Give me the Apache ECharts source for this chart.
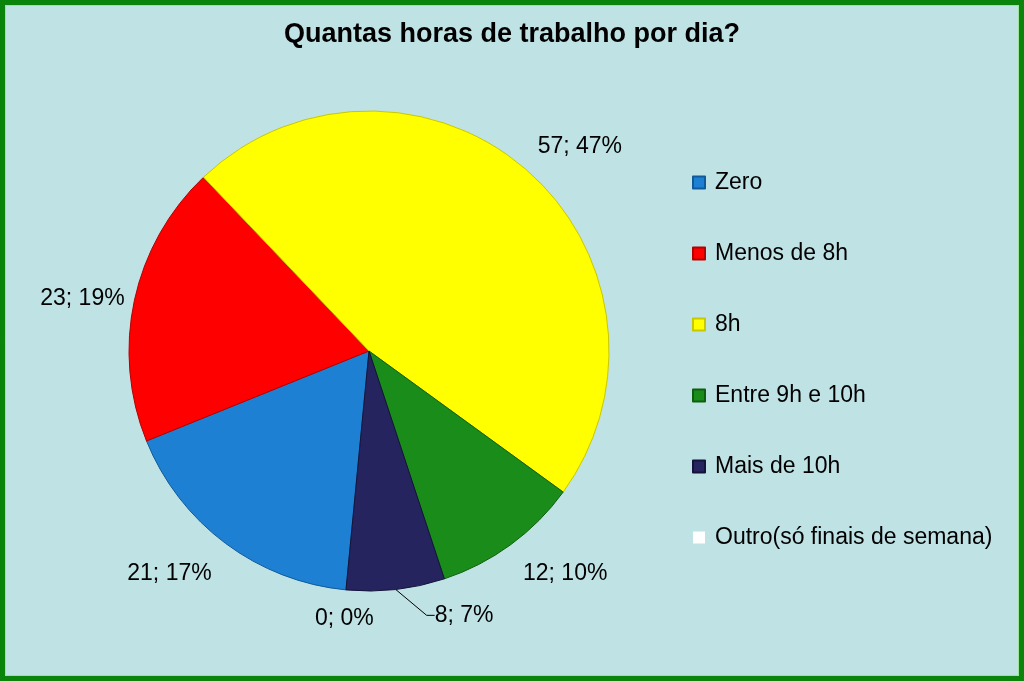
<!DOCTYPE html>
<html>
<head>
<meta charset="utf-8">
<style>
  html, body { margin: 0; padding: 0; background: #BFE2E5; }
  #chart { width: 1024px; height: 681px; }
</style>
<script src="https://cdn.jsdelivr.net/npm/echarts@6/dist/echarts.min.js"></script>
</head>
<body>
<div id="chart"></div>
<script>
var categories = ['Zero', 'Menos de 8h', '8h', 'Entre 9h e 10h', 'Mais de 10h', 'Outro(só finais de semana)'];
var values = [21, 23, 57, 12, 8, 0];
var percentLabels = ['17%', '19%', '47%', '10%', '7%', '0%'];
var colors = ['#1E80D2', '#FF0000', '#FFFF00', '#1A8C1A', '#25245E', '#FFFFFF'];
var edgeColors = ['#0F5A99', '#B30000', '#C8C800', '#0E5F0E', '#14133A', '#CCCCCC'];
// radial gap between slice edge and label
var labelGap = [23, 10, 16, 21, 26, 17];
// extra horizontal shift (leader-line label)
var labelShift = [0, 0, 0, 0, 36, 0];

var data = categories.map(function (name, i) {
  var leader = labelShift[i] > 0;
  return {
    name: name,
    value: values[i],
    itemStyle: {
      color: colors[i],
      borderColor: edgeColors[i],
      borderWidth: i === 5 ? 0 : 1
    },
    labelLine: {
      show: true,
      length: 20,
      length2: leader ? 8 : 0,
      lineStyle: { color: '#000', width: 1, opacity: leader ? 1 : 0 }
    }
  };
});

var chart = echarts.init(document.getElementById('chart'), null, { renderer: 'canvas' });
chart.setOption({
  backgroundColor: '#BFE2E5',
  animation: false,
  title: {
    text: 'Quantas horas de trabalho por dia?',
    left: 'center',
    top: 16,
    textStyle: {
      fontFamily: 'Liberation Sans, Arial, sans-serif',
      fontSize: 27,
      fontWeight: 'bold',
      color: '#000'
    }
  },
  legend: {
    orient: 'vertical',
    left: 692,
    top: 171,
    padding: 0,
    itemWidth: 12,
    itemHeight: 12,
    itemGap: 48,
    icon: 'rect',
    selectedMode: false,
    textStyle: {
      fontFamily: 'Liberation Sans, Arial, sans-serif',
      fontSize: 23,
      color: '#000',
      padding: [0, 0, 0, 5]
    },
    data: categories
  },
  graphic: [
    {
      type: 'rect',
      shape: { x: 2.5, y: 2.5, width: 1019, height: 676 },
      style: { fill: 'none', stroke: '#0A840A', lineWidth: 5 },
      z: 100
    },
    {
      type: 'rect',
      shape: { x: 5.5, y: 5.5, width: 1013, height: 670 },
      style: { fill: 'none', stroke: '#9DE39D', lineWidth: 1 },
      z: 100
    }
  ],
  series: [{
    type: 'pie',
    center: [369, 351],
    radius: 240,
    startAngle: -95.5,
    clockwise: true,
    avoidLabelOverlap: false,
    minShowLabelAngle: 0,
    data: data,
    label: {
      show: true,
      position: 'outside',
      fontFamily: 'Liberation Sans, Arial, sans-serif',
      fontSize: 23,
      color: '#000',
      distanceToLabelLine: 3,
      formatter: function (p) {
        return p.value + '; ' + percentLabels[p.dataIndex];
      }
    },
    emphasis: { disabled: true },
    labelLayout: function (p) {
      var i = p.dataIndex;
      var gap = labelGap[i];
      if (!p.labelLinePoints) { return {}; }
      var a = p.labelLinePoints[0], b = p.labelLinePoints[1];
      var dx = b[0] - a[0], dy = b[1] - a[1];
      var len = Math.sqrt(dx * dx + dy * dy) || 1;
      dx /= len; dy /= len;
      if (labelShift[i] > 0) {
        return {
          x: a[0] + dx * gap + labelShift[i],
          y: a[1] + dy * gap,
          align: 'left',
          verticalAlign: 'middle'
        };
      }
      var align = Math.abs(dx) < 0.2 ? 'center' : (dx < 0 ? 'right' : 'left');
      var va = dy > 0.4 ? 'top' : (dy < -0.4 ? 'bottom' : 'middle');
      return {
        x: a[0] + dx * gap,
        y: a[1] + dy * gap,
        align: align,
        verticalAlign: va
      };
    }
  }]
});
</script>
</body>
</html>
